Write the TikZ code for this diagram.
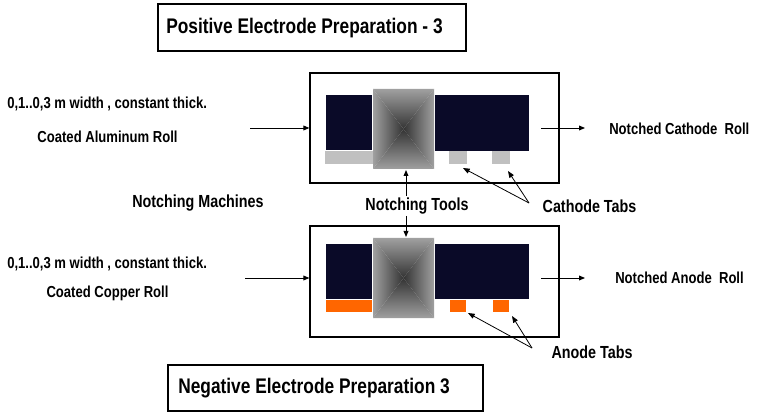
\documentclass[tikz,border=0pt]{standalone}
\usepackage{fontspec}
\setmainfont{Liberation Sans}[FakeStretch=0.82]
\usetikzlibrary{arrows.meta,fit,calc}
\definecolor{navy}{RGB}{10,10,40}
\definecolor{tabgray}{RGB}{192,192,192}
\definecolor{taborange}{RGB}{255,102,0}
\definecolor{tooledge}{RGB}{160,160,160}
\definecolor{toolmid}{RGB}{52,52,52}
\newcommand\drawtool[5]{%
  \coordinate (#5) at ($(#1,#2)!0.5!(#3,#4)$);
  \shade[top color=tooledge,bottom color=toolmid] (#1,#2)--(#3,#2)--(#5)--cycle;
  \shade[top color=toolmid,bottom color=tooledge] (#1,#4)--(#3,#4)--(#5)--cycle;
  \shade[left color=tooledge,right color=toolmid] (#1,#2)--(#1,#4)--(#5)--cycle;
  \shade[left color=toolmid,right color=tooledge] (#3,#2)--(#3,#4)--(#5)--cycle;
}
\begin{document}
\begin{tikzpicture}[x=0.75pt,y=-0.75pt,
  frame/.style={draw,line width=0.9pt,inner sep=0pt},
  area/.style={inner sep=0pt},
  small/.style={inner sep=0pt,font=\bfseries\fontsize{11.95}{13}\selectfont},
  medium/.style={inner sep=0pt,font=\bfseries\fontsize{13.1}{14}\selectfont},
  big/.style={inner sep=0pt,font=\bfseries\fontsize{15.85}{17}\selectfont},
  arr/.style={line width=0.7pt,-{Triangle[length=4.5pt,width=3.6pt]}},
  thin/.style={line width=0.6pt,-{Triangle[length=5pt,width=3.8pt]}}]
\useasboundingbox (0,0) rectangle (766,416);

% titles
\node[fit={(158,4)(466,51)},frame] (t1) {};
\node[big,anchor=west] (t1txt) at (166,28) {Positive Electrode Preparation - 3};
\node[fit={(168,365)(483,411)},frame] (t2) {};
\node[big,anchor=west] (t2txt) at (178,388) {Negative Electrode Preparation 3};

% machine 1 (cathode)
\node[fit={(310,73)(559,183)},frame] (m1) {};
\fill[navy] (326,95) rectangle (372,150);
\fill[navy] (435,95) rectangle (529,151);
\fill[tabgray] (325,151) rectangle (373,164);
\node[fit={(449,151)(467,164)},area,fill=tabgray] (ct1) {};
\node[fit={(492,151)(510,164)},area,fill=tabgray] (ct2) {};
\drawtool{373}{89}{434}{169}{c1}
\node[fit={(373,89)(434,169)},area] (tool1) {};

% machine 2 (anode)
\node[fit={(310,226)(559,337)},frame] (m2) {};
\fill[navy] (326,244) rectangle (372,299);
\fill[navy] (435,244) rectangle (529,299);
\fill[taborange] (326,300) rectangle (372,312);
\node[fit={(450,300)(466,312)},area,fill=taborange] (at1) {};
\node[fit={(493,300)(509,312)},area,fill=taborange] (at2) {};
\drawtool{373}{238}{434}{318}{c2}
\node[fit={(373,238)(434,318)},area] (tool2) {};

% left texts
\node[small,anchor=west] (w1) at (7,104) {0,1..0,3 m width , constant thick.};
\node[small] (al) at (107.5,137) {Coated Aluminum Roll};
\node[medium] (nm) at (198,203) {Notching Machines};
\node[small,anchor=west] (w2) at (7,264) {0,1..0,3 m width , constant thick.};
\node[small] (cu) at (107.5,293) {Coated Copper Roll};

% right texts
\node[small,anchor=west] (ncr) at (609,129) {Notched Cathode\ \ Roll};
\node[small,anchor=west] (nar) at (615,278) {Notched Anode\ \ Roll};
\node[medium] (ctabs) at (589.5,206) {Cathode Tabs};
\node[medium] (atabs) at (592,352) {Anode Tabs};
\node[medium] (tools) at (417,206) {Notching Tools};

% flow arrows
\coordinate (in1) at (250,128);
\coordinate (in2) at (245,278);
\draw[arr] (in1) -- (in1 -| m1.west);
\draw[arr] (in2) -- (in2 -| m2.west);
\coordinate (o1s) at (541,128);
\coordinate (o1e) at (585,128);
\coordinate (o2s) at (541,278);
\coordinate (o2e) at (585,278);
\draw[arr] (o1s) -- (o1e);
\draw[arr] (o2s) -- (o2e);

% tool arrows
\coordinate (tu1) at (406,196);
\coordinate (tu2) at (406,170);
\coordinate (td1) at (406,216);
\coordinate (td2) at (406,237);
\draw[arr] (tu1) -- (tu2);
\draw[arr] (td1) -- (td2);

% tab arrows
\coordinate (cj) at (529,203);
\coordinate (ca1) at (463,168);
\coordinate (ca2) at (508,171);
\draw[thin] (cj) -- (ca1);
\draw[thin] (cj) -- (ca2);
\coordinate (aj) at (532,348);
\coordinate (aa1) at (468,313);
\coordinate (aa2) at (512,316);
\draw[thin] (aj) -- (aa1);
\draw[thin] (aj) -- (aa2);
\end{tikzpicture}
\end{document}
